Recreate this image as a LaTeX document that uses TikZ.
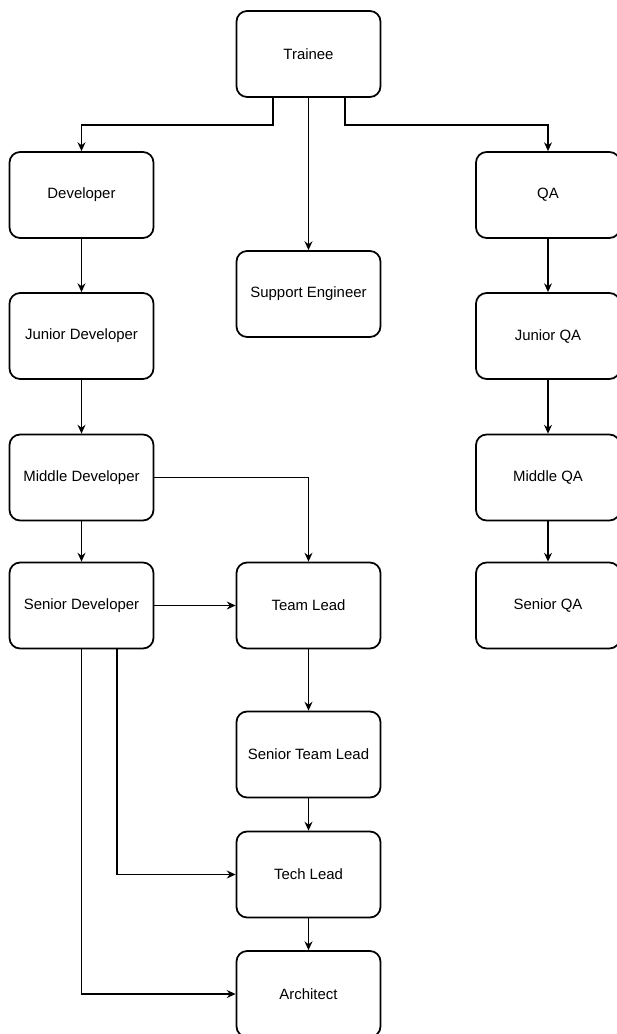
\documentclass[tikz,border=0pt]{standalone}
\usepackage{fontspec}
\setmainfont{Liberation Sans}
\usetikzlibrary{arrows.meta}

\begin{document}
\begin{tikzpicture}[x=0.02cm, y=0.02cm,
    role/.style={draw, rounded corners=6pt, line width=1pt, minimum width=2.88cm, minimum height=1.72cm, font=\fontsize{8.5}{10}\selectfont},
    link/.style={-{Stealth[length=5pt, width=4.5pt]}, line width=0.9pt}]
    \useasboundingbox (0, 0) rectangle (617, -1034);

    \node[role] (trainee) at (308.5, -54) {Trainee};

    \node[role] (dev) at (81.5, -195) {Developer};
    \node[role] (support) at (308.5, -294) {Support Engineer};
    \node[role] (qa) at (548, -195) {QA};

    \node[role] (jdev) at (81.5, -336) {Junior Developer};
    \node[role] (jqa) at (548, -336) {Junior QA};

    \node[role] (mdev) at (81.5, -477.5) {Middle Developer};
    \node[role] (mqa) at (548, -477.5) {Middle QA};

    \node[role] (sdev) at (81.5, -605.5) {Senior Developer};
    \node[role] (tlead) at (308.5, -605.5) {Team Lead};
    \node[role] (sqa) at (548, -605.5) {Senior QA};

    \node[role] (stlead) at (308.5, -754.5) {Senior Team Lead};
    \node[role] (techlead) at (308.5, -874.5) {Tech Lead};
    \node[role] (arch) at (308.5, -994) {Architect};

    \draw[link] ([xshift=-0.71cm]trainee.south) -- ++(0, -27) -| (dev);
    \draw[link] (trainee) -- (support);
    \draw[link] ([xshift=0.73cm]trainee.south) -- ++(0, -27) -| (qa);

    \draw[link] (dev) -- (jdev);
    \draw[link] (jdev) -- (mdev);
    \draw[link] (mdev) -- (sdev);
    \draw[link] (mdev.east) -| (tlead);
    \draw[link] (sdev) -- (tlead);

    \draw[link] (qa) -- (jqa);
    \draw[link] (jqa) -- (mqa);
    \draw[link] (mqa) -- (sqa);

    \draw[link] (tlead) -- (stlead);
    \draw[link] (stlead) -- (techlead);
    \draw[link] (techlead) -- (arch);

    \draw[link] ([xshift=0.71cm]sdev.south) |- (techlead);
    \draw[link] (sdev.south) |- (arch);
\end{tikzpicture}
\end{document}
